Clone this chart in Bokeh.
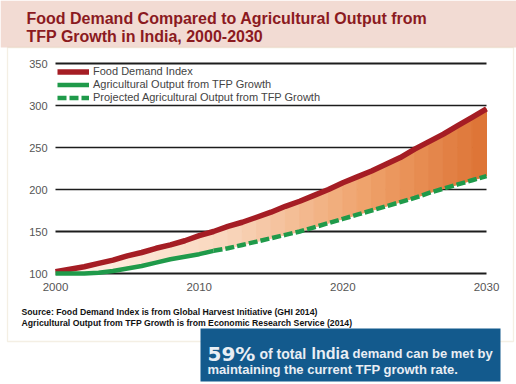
from bokeh.plotting import figure
from bokeh.models import (Legend, LegendItem, Label, BoxAnnotation, FixedTicker,
                          Range1d)
from bokeh.embed import file_html
from bokeh.resources import INLINE

# ---------------- data ----------------
years = list(range(2000, 2031))
food_demand = [102, 105, 108, 112, 116, 121, 125, 130, 134, 139, 145,
               150, 156, 161, 167, 173, 180, 186, 193, 200, 208,
               215, 222, 230, 238, 248, 257, 266, 276, 286, 296]
ag_output = [100, 100, 100, 101, 103, 106, 109, 113, 117, 120, 123,
             127, 130, 134, 138, 142, 146, 150, 155, 160, 165,
             170, 175, 180, 185, 190, 196, 201, 206, 211, 216]
last_actual_year = 2011
y_ticks = [100, 150, 200, 250, 300, 350]
x_ticks = [2000, 2010, 2020, 2030]
series_names = ["Food Demand Index",
                "Agricultural Output from TFP Growth",
                "Projected Agricultural Output from TFP Growth"]
title_lines = ["Food Demand Compared to Agricultural Output from",
               "TFP Growth in India, 2000-2030"]
source_lines = ["Source: Food Demand Index is from Global Harvest Initiative (GHI 2014)",
                "Agricultural Output from TFP Growth is from Economic Research Service (2014)"]
callout_parts = ["59%", "of total", "India", "demand can be met by",
                 "maintaining the current TFP growth rate."]

# ---------------- layout (pixels on the canvas) ----------------
W, H = 516, 384
PX_LEFT, PX_RIGHT = 55, 486      # where the first / last x tick sit
PX_TOP, PX_BOTTOM = 63, 273      # where the top / bottom y tick sit

sx = (PX_RIGHT - PX_LEFT) / (x_ticks[-1] - x_ticks[0])
sy = (PX_BOTTOM - PX_TOP) / (y_ticks[-1] - y_ticks[0])
x_range = Range1d(x_ticks[0] - PX_LEFT / sx, x_ticks[-1] + (W - PX_RIGHT) / sx)
y_range = Range1d(y_ticks[0] - (H - PX_BOTTOM) / sy, y_ticks[-1] + PX_TOP / sy)

p = figure(width=W, height=H, output_backend="svg", toolbar_location=None,
           x_range=x_range, y_range=y_range,
           min_border=0, min_border_left=0, min_border_right=0,
           min_border_top=0, min_border_bottom=0,
           background_fill_color="white", border_fill_color="white")
p.outline_line_color = None

# axes drawn inside the frame at fixed places
p.yaxis.ticker = FixedTicker(ticks=y_ticks)
p.xaxis.ticker = FixedTicker(ticks=x_ticks)
p.yaxis.fixed_location = x_ticks[0]
p.xaxis.fixed_location = y_ticks[0]
for ax in (p.xaxis, p.yaxis):
    ax.axis_line_color = None
    ax.major_tick_line_color = None
    ax.minor_tick_line_color = None
    ax.major_tick_out = 0
    ax.major_tick_in = 0
    ax.minor_tick_out = 0
    ax.minor_tick_in = 0
    ax.major_label_text_font = "Liberation Sans"
    ax.major_label_text_color = "#555555"
p.yaxis.major_label_text_font_size = "11px"
p.xaxis.major_label_text_font_size = "11.5px"
p.yaxis.major_label_standoff = 8
p.xaxis.major_label_standoff = 9
p.xgrid.visible = False
p.ygrid.visible = False

# ---------------- decorations (canvas units) ----------------
U = dict(left_units="canvas", right_units="canvas",
         top_units="canvas", bottom_units="canvas")
p.add_layout(BoxAnnotation(left=0, right=W, top=0, bottom=47,
                           fill_color="#f2dbd3", fill_alpha=1,
                           line_color=None, level="underlay", **U))
p.add_layout(BoxAnnotation(left=7, right=513, top=47, bottom=341,
                           fill_alpha=0, line_color="#dccaa6", line_width=1.3,
                           level="underlay", **U))

# horizontal grid lines at the y ticks, spanning the year span
n = len(y_ticks)
p.segment(x0=[x_ticks[0]] * n, x1=[x_ticks[-1]] * n, y0=y_ticks, y1=y_ticks,
          line_color="#1c1c1c", line_width=[2, 2, 1.4, 1.4, 1.4, 2],
          level="underlay")

# ---------------- gradient fill between the two series ----------------
stops = [(2000, (254, 245, 237)), (2012, (249, 214, 188)),
         (2022, (238, 160, 104)), (2030, (221, 114, 52))]

def grad(x):
    for (x0, c0), (x1, c1) in zip(stops[:-1], stops[1:]):
        if x0 <= x <= x1:
            t = (x - x0) / (x1 - x0)
            return "#%02x%02x%02x" % tuple(int(round(a + (b - a) * t)) for a, b in zip(c0, c1))
    return "#%02x%02x%02x" % stops[-1][1]

xs, ys, cols = [], [], []
for i in range(len(years) - 1):
    xs.append([years[i], years[i + 1], years[i + 1], years[i]])
    ys.append([ag_output[i], ag_output[i + 1], food_demand[i + 1], food_demand[i]])
    cols.append(grad((years[i] + years[i + 1]) / 2))
p.patches(xs, ys, fill_color=cols, line_color=cols, line_width=1)

# ---------------- lines ----------------
k = years.index(last_actual_year)
r_food = p.line(years, food_demand, line_color="#a51d24", line_width=5.5,
                line_join="round")
r_act = p.line(years[:k + 1], ag_output[:k + 1], line_color="#1f9a4a",
               line_width=4.5, line_join="round")
r_proj = p.line(years[k:], ag_output[k:], line_color="#1f9a4a",
                line_width=4.5, line_dash="9 3")

ROW_H = 13
row_centres = [71, 84, 97]
for name, rend, yc in zip(series_names, [r_food, r_act, r_proj], row_centres):
    lg = Legend(items=[LegendItem(label=name, renderers=[rend])],
                location=(57, H - (yc + ROW_H / 2)), padding=0, margin=0, spacing=0,
                label_height=ROW_H, glyph_height=ROW_H, glyph_width=32,
                label_standoff=4, label_text_font="Liberation Sans",
                label_text_font_size="11px", label_text_color="#444444",
                border_line_color=None, background_fill_alpha=0)
    p.add_layout(lg, "center")

# blue call-out box
p.add_layout(BoxAnnotation(left=200, right=500, top=328, bottom=381,
                           fill_color="#135a8d", fill_alpha=1,
                           line_color=None, **U))

def label(text, x, y, size, color, font="Liberation Sans"):
    p.add_layout(Label(x=x, y=y, x_units="canvas", y_units="canvas", text=text,
                       text_font=font, text_font_size=size,
                       text_font_style="bold",
                       text_color=color, text_baseline="alphabetic",
                       text_align="left"))

label(title_lines[0], 26, 18, "16px", "#8b1a1f")
label(title_lines[1], 26, 35.5, "16px", "#8b1a1f")
label(source_lines[0], 21, 311.5, "8.7px", "#111111")
label(source_lines[1], 21, 322.5, "8.7px", "#111111")

box_txt = "#e9eef4"
label(callout_parts[0], 207, 353, "20px", box_txt, font="DejaVu Sans")
label(callout_parts[1], 259, 353, "14px", box_txt)
label(callout_parts[2], 311, 353, "16px", box_txt)
label(callout_parts[3], 352, 353, "13px", box_txt)
label(callout_parts[4], 207, 369, "13px", box_txt)

open("out.html", "w").write(file_html(p, INLINE))
